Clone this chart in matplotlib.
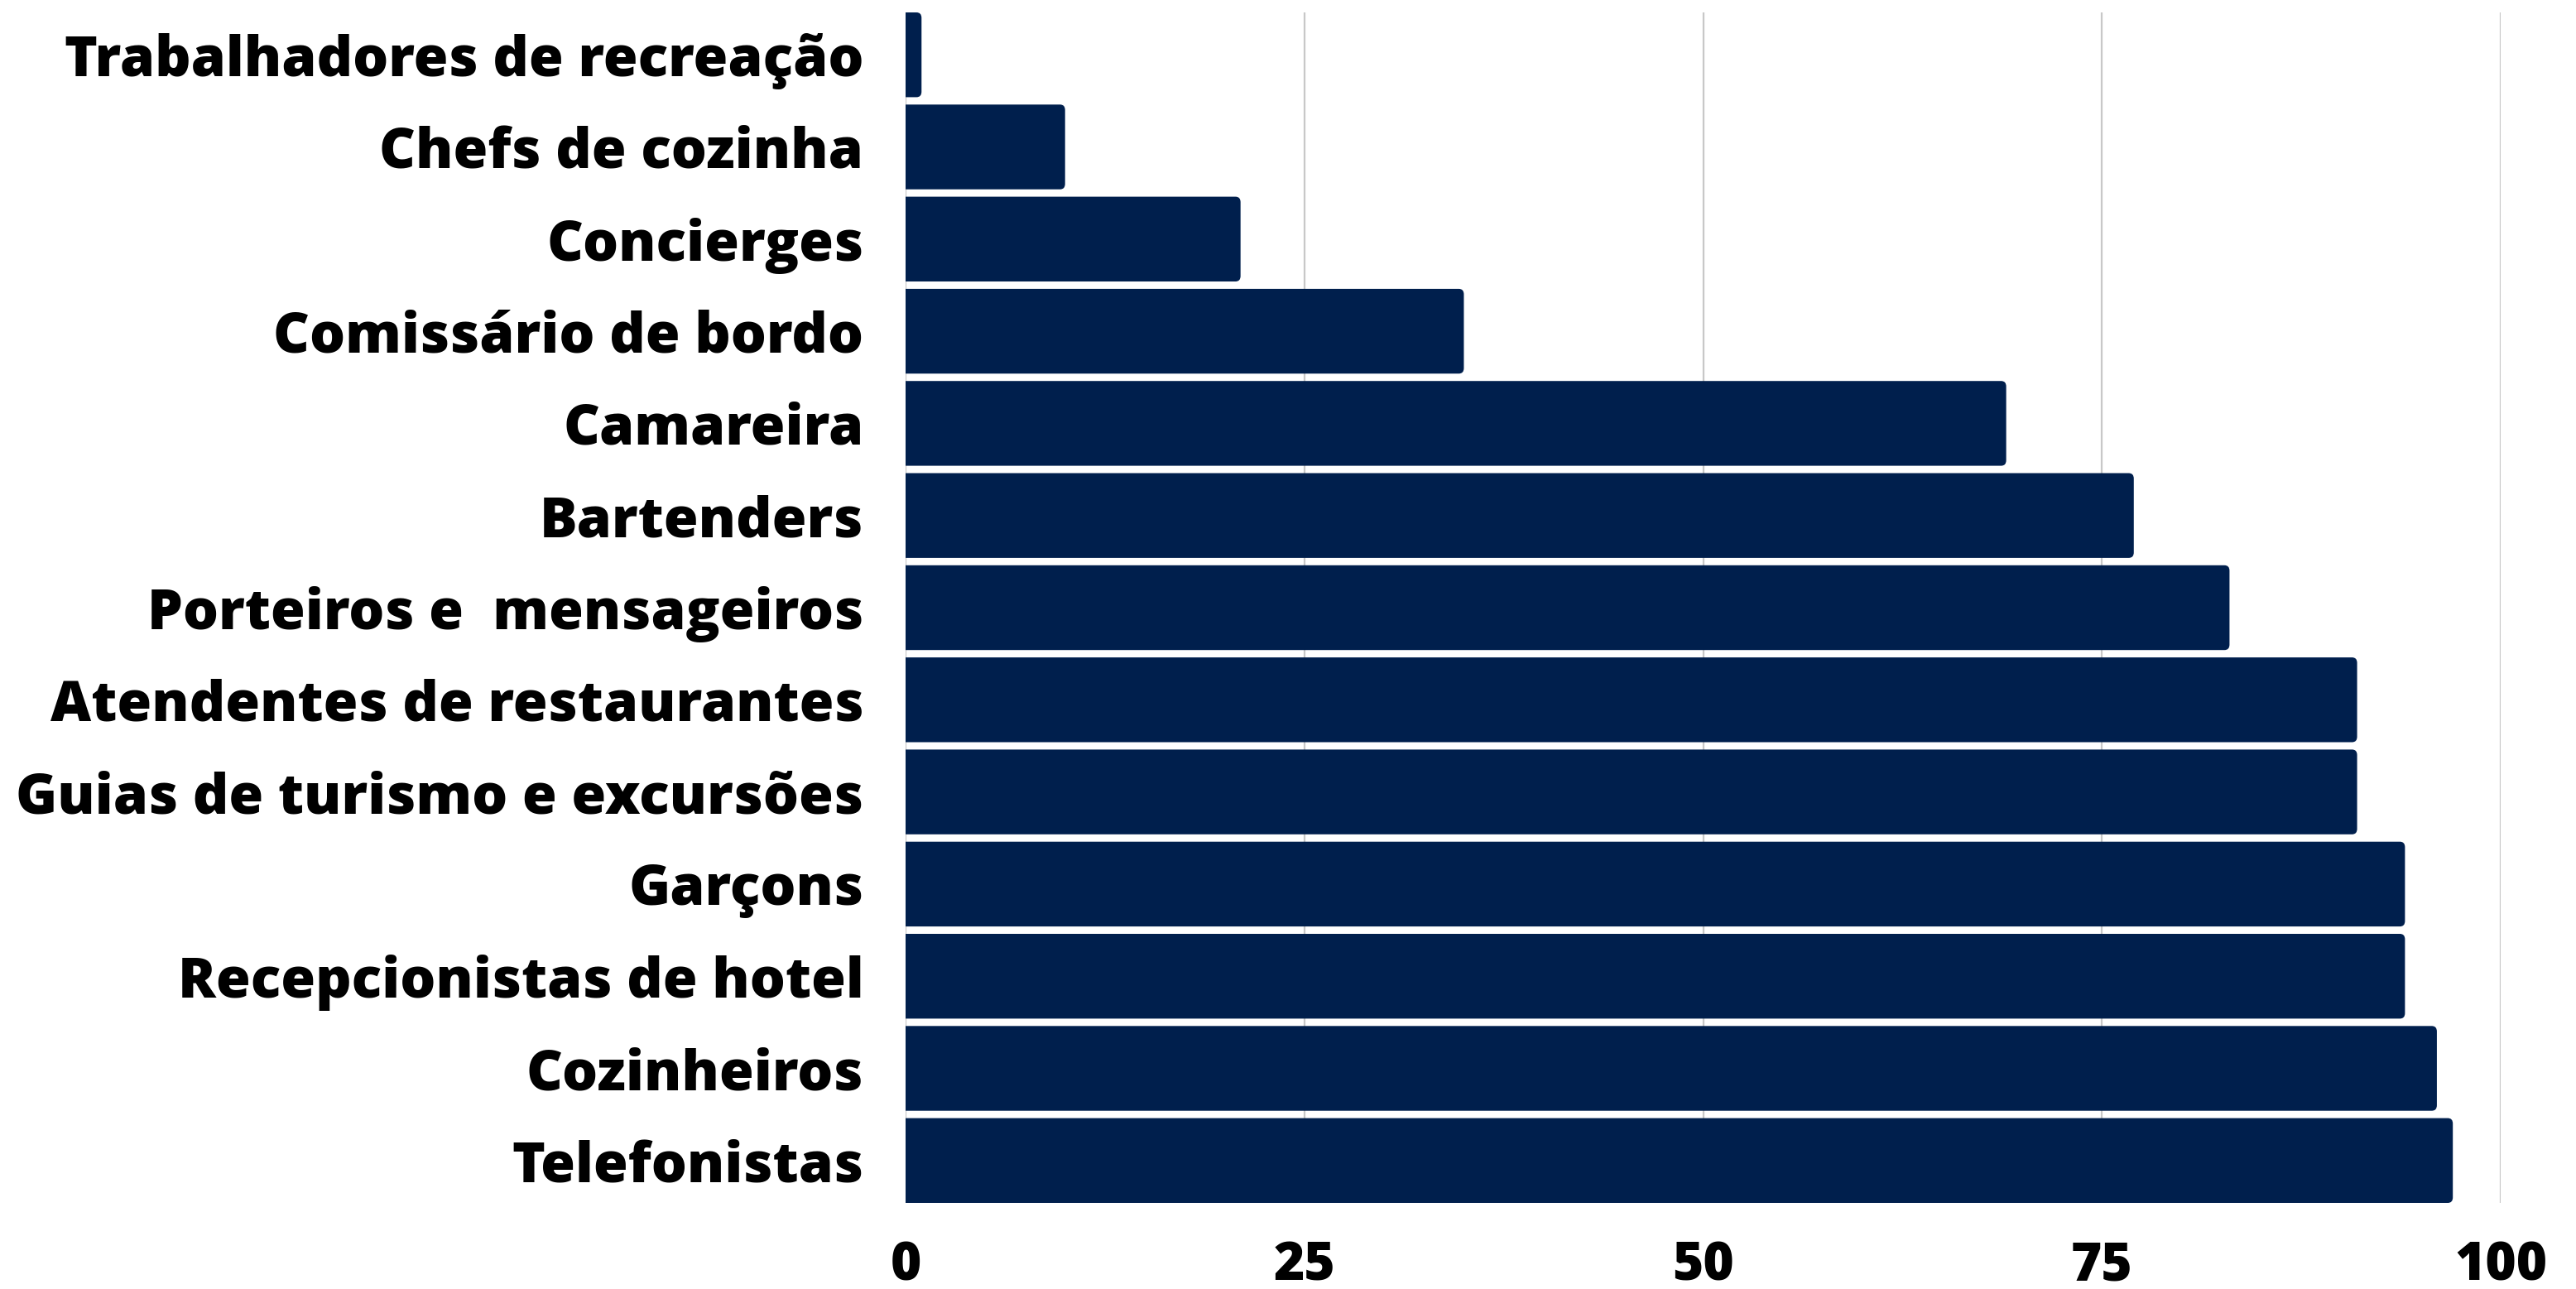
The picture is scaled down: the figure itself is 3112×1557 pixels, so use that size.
import matplotlib
matplotlib.use("Agg")
import matplotlib.pyplot as plt
from matplotlib.patches import FancyBboxPatch

categories = [
    "Trabalhadores de recreação",
    "Chefs de cozinha",
    "Concierges",
    "Comissário de bordo",
    "Camareira",
    "Bartenders",
    "Porteiros e  mensageiros",
    "Atendentes de restaurantes",
    "Guias de turismo e excursões",
    "Garçons",
    "Recepcionistas de hotel",
    "Cozinheiros",
    "Telefonistas",
]
values = [1, 10, 21, 35, 69, 77, 83, 91, 91, 94, 94, 96, 97]
x_ticks = [0, 25, 50, 75, 100]

BAR_COLOR = "#001f4d"
GRID_COLOR = "#c8c8c8"
FONT = ["Open Sans", "DejaVu Sans"]

W, H = 3112, 1557
fig = plt.figure(figsize=(W / 100, H / 100), dpi=100)
ax = fig.add_axes([1094 / W, 104 / H, (3021 - 1094) / W, (1453 - 15) / H])

bar_h = 0.92
bars = ax.barh(range(len(categories)), values, height=bar_h, color=BAR_COLOR, zorder=3)

# rounded right corners (small radius), left side clipped at x=0
fig.canvas.draw()
px_x = ax.transData.transform((1, 0))[0] - ax.transData.transform((0, 0))[0]
px_y = abs(ax.transData.transform((0, 1))[1] - ax.transData.transform((0, 0))[1])
r_px = 6
r_x = r_px / px_x
aspect = (r_px / px_y) / r_x
for rect in bars:
    x, y = rect.get_x(), rect.get_y()
    w, h = rect.get_width(), rect.get_height()
    p = FancyBboxPatch((x - 2, y), w + 2, h,
                       boxstyle=f"round,pad=0,rounding_size={r_x}",
                       mutation_aspect=aspect,
                       facecolor=BAR_COLOR, edgecolor="none", zorder=3)
    ax.add_patch(p)
    rect.set_visible(False)

ax.set_xlim(0, 100)
ax.set_ylim(len(categories) - 1 + bar_h / 2, -bar_h / 2)

ax.set_xticks(x_ticks)
ax.set_xticklabels([str(t) for t in x_ticks])
ax.set_yticks(range(len(categories)))
ax.set_yticklabels(categories)

for lbl in ax.get_yticklabels():
    lbl.set_fontfamily(FONT)
    lbl.set_fontweight(900)
    lbl.set_fontsize(48.8)
for lbl in ax.get_xticklabels():
    lbl.set_fontfamily(FONT)
    lbl.set_fontweight(900)
    lbl.set_fontsize(46)

ax.tick_params(axis="y", length=0, pad=36.5)
ax.tick_params(axis="x", length=0, pad=32)

ax.grid(axis="x", color=GRID_COLOR, linewidth=1.6, zorder=0)
ax.grid(axis="y", visible=False)
ax.set_axisbelow(True)
for s in ax.spines.values():
    s.set_visible(False)

fig.savefig("out.png", dpi=100, facecolor="white")
